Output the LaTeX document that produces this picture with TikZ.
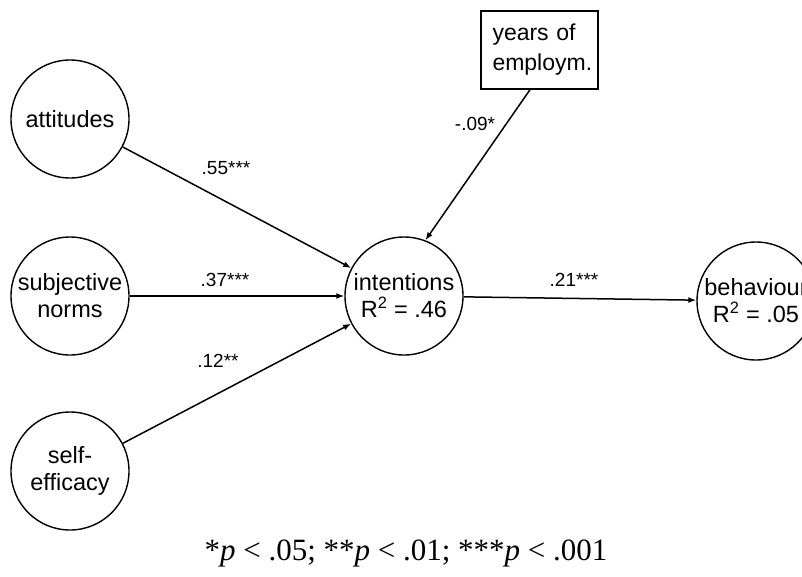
\documentclass[tikz,border=0pt]{standalone}
\usepackage{fontspec}
\setmainfont{Liberation Sans}
\newfontfamily\notefont{Liberation Serif}
\usetikzlibrary{arrows.meta}
\begin{document}
\begin{tikzpicture}[x=1pt,y=-1pt,
  construct/.style={draw,circle,line width=1.4pt,minimum size=118pt,inner sep=0pt,
    align=center,font=\fontsize{23.5}{27}\selectfont},
  covariate/.style={draw,rectangle,line width=1.4pt,minimum width=117pt,minimum height=78pt,
    inner xsep=0pt,text width=94pt,align=left,font=\fontsize{23}{30}\selectfont},
  path/.style={line width=1.5pt,-{Latex[length=8pt,width=6pt]}},
  coef/.style={inner sep=0pt,font=\fontsize{19}{21}\selectfont}]
  \useasboundingbox (0,0) rectangle (802,576);
  \fill[white] (0,0) rectangle (802,576);

  % latent constructs
  \node[construct] (att) at (70,119) {attitudes};
  \node[construct] (sn)  at (70,296) {subjective\\norms};
  \node[construct] (se)  at (70,471) {self-\\efficacy};
  \node[construct] (int) at (404,296) {intentions\\R\textsuperscript{2} = .46};
  \node[construct] (beh) at (756,301) {behaviour\\R\textsuperscript{2} = .05};
  \node[covariate] (yrs) at (539.5,50) {years of\\employm.};

  % structural paths
  \draw[path] (att) -- (int);
  \draw[path] (sn) -- (int);
  \draw[path] (se) -- (int);
  \draw[path] ([xshift=-9.5pt]yrs.south) -- (int.69);
  \draw[path] (int) -- (beh);

  % path coefficients
  \node[coef] (c1) at (226,168) {.55***};
  \node[coef] (c2) at (225,280) {.37***};
  \node[coef] (c3) at (218,361) {.12**};
  \node[coef] (c4) at (475,124) {-.09*};
  \node[coef] (c5) at (574,280) {.21***};

  % significance levels
  \node[font=\notefont\fontsize{31}{33}\selectfont] (note) at (406,553)
    {*\textit{p} < .05; **\textit{p} < .01; ***\textit{p} < .001};
\end{tikzpicture}
\end{document}
